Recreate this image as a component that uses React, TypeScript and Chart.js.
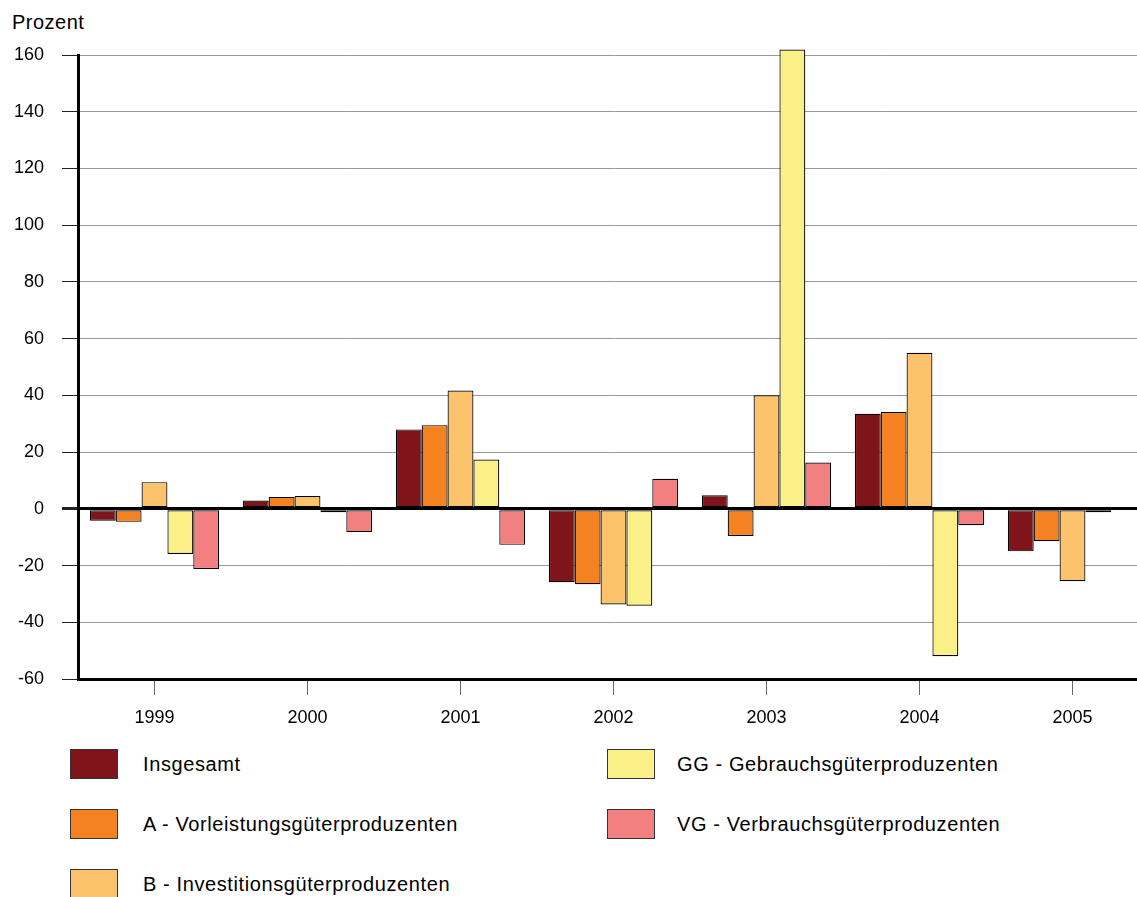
import React, { useEffect, useRef } from 'react';
import { Chart, registerables } from 'chart.js';

Chart.register(...registerables);

const years = ['1999', '2000', '2001', '2002', '2003', '2004', '2005'];

const insgesamt = [-4.2, 2.9, 28.0, -25.9, 4.8, 33.5, -15.0];
const vorleistung = [-4.6, 4.2, 29.5, -26.6, -9.6, 34.1, -11.4];
const investition = [9.4, 4.5, 41.7, -33.7, 40.0, 55.0, -25.5];
const gebrauch = [-15.9, -1.2, 17.4, -34.2, 161.9, -52.0, -1.2];
const verbrauch = [-21.2, -8.2, -12.7, 10.6, 16.3, -5.8, null];

const seriesLabels = [
  'Insgesamt',
  'A - Vorleistungsgüterproduzenten',
  'B - Investitionsgüterproduzenten',
  'GG - Gebrauchsgüterproduzenten',
  'VG - Verbrauchsgüterproduzenten',
];
const seriesColors = ['#7f151a', '#f58220', '#fdc26c', '#fbf088', '#f38080'];
const seriesValues = [insgesamt, vorleistung, investition, gebrauch, verbrauch];

const font = '"Liberation Sans", Arial, sans-serif';

// legend boxes: left column holds 3 entries, right column 2
const legendSlots = [
  { left: 70, top: 749 },
  { left: 70, top: 809 },
  { left: 70, top: 869 },
  { left: 607, top: 749 },
  { left: 607, top: 809 },
];

function App() {
  const chartRef: any = useRef(null);

  useEffect(() => {
    document.body.style.margin = '0';
    const ctx = chartRef.current.getContext('2d');
    const chartInstance = new Chart(ctx, {
      type: 'bar',
      data: {
        labels: years,
        datasets: seriesValues.map((values, i) => ({
          label: seriesLabels[i],
          data: values,
          backgroundColor: seriesColors[i],
          borderColor: '#000',
          borderWidth: 1.2,
          borderSkipped: false,
          categoryPercentage: 0.845,
          barPercentage: 1,
          clip: false,
        })),
      },
      options: {
        animation: false,
        responsive: true,
        maintainAspectRatio: false,
        layout: { padding: { top: 55, left: 0, right: 0, bottom: 0 } },
        plugins: {
          legend: { display: false },
          tooltip: { enabled: false },
        },
        scales: {
          x: {
            offset: true,
            afterFit: (s: any) => { s.height = 60; },
            grid: {
              offset: false,
              drawOnChartArea: false,
              tickLength: 16,
              color: '#666',
            },
            border: { display: true, color: '#000', width: 3 },
            ticks: { color: '#000', font: { family: font, size: 18 }, padding: 12 },
          },
          y: {
            min: -60,
            max: 160,
            afterFit: (s: any) => { s.width = 78; },
            grid: {
              tickLength: 16,
              color: (c: any) => (c.tick && c.tick.value === 0 ? '#000' : '#999'),
              lineWidth: (c: any) => (c.tick && c.tick.value === 0 ? 3 : 1),
              tickColor: '#222',
            },
            border: { display: true, color: '#000', width: 3 },
            ticks: {
              stepSize: 20,
              color: '#000',
              font: { family: font, size: 18 },
              padding: 18,
            },
          },
        },
      },
    });

    return () => {
      chartInstance.destroy();
    };
  }, []);

  return (
    <div style={{ position: 'relative', width: 1137, height: 897, overflow: 'hidden', background: '#fff', fontFamily: font }}>
      <div style={{ position: 'absolute', left: 12, top: 11, fontSize: 20, letterSpacing: 0.5, color: '#000' }}>Prozent</div>
      <div style={{ position: 'absolute', left: 0, top: 0, width: 1149, height: 739 }}>
        <canvas ref={chartRef} />
      </div>
      {seriesLabels.map((label, i) => (
        <div key={label} style={{ position: 'absolute', left: legendSlots[i].left, top: legendSlots[i].top, height: 30, display: 'flex', alignItems: 'center' }}>
          <div style={{ width: 46, height: 28, background: seriesColors[i], border: '1px solid #333' }} />
          <div style={{ marginLeft: i < 3 ? 25 : 22, fontSize: 20, letterSpacing: 0.6, color: '#000', whiteSpace: 'nowrap' }}>{label}</div>
        </div>
      ))}
    </div>
  );
}

export default App;
